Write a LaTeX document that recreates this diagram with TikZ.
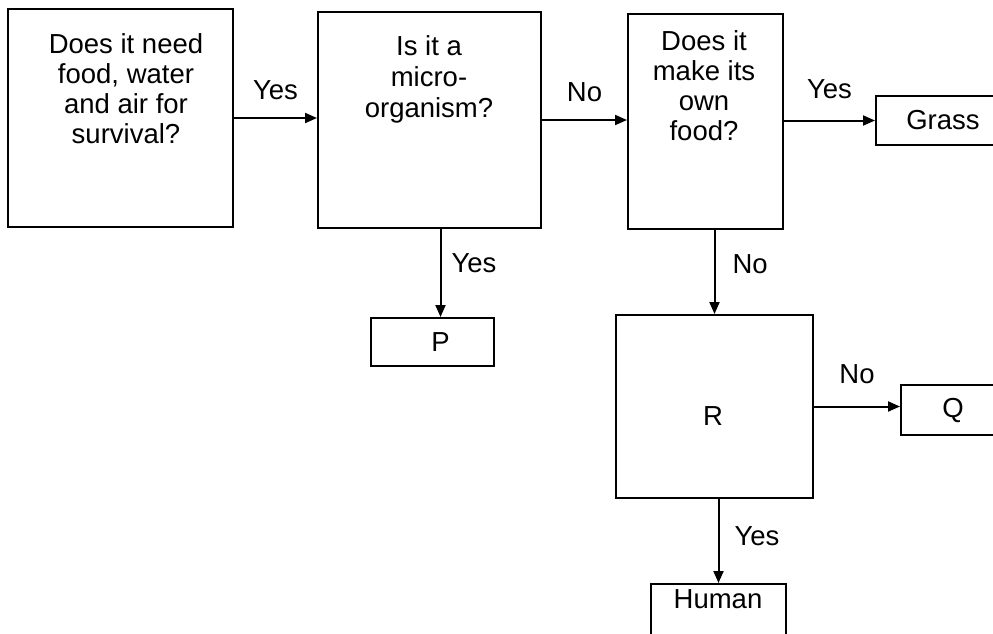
\documentclass[tikz,border=0pt]{standalone}
\usepackage{fontspec}
\setmainfont{Liberation Sans}
\usetikzlibrary{arrows.meta}
\begin{document}
\begin{tikzpicture}[x=1pt,y=-1pt,
  box/.style={draw, line width=2pt, inner sep=0pt, anchor=north west,
    font=\fontsize{27.5}{30}\selectfont},
  qtext/.style={anchor=north, align=center, inner sep=0pt,
    font=\fontsize{27.5}{30}\selectfont},
  lbl/.style={font=\fontsize{27.5}{30}\selectfont, inner sep=0pt},
  arr/.style={line width=2pt, -{Triangle[length=12pt,width=10pt]}}]
\useasboundingbox (0,0) rectangle (993,633);
\clip (0,0) rectangle (993,633);
% boxes
\node[box, minimum width=225pt, minimum height=218pt] (b1) at (7,8) {};
\node[box, minimum width=223pt, minimum height=216pt] (b2) at (317,11) {};
\node[box, minimum width=155pt, minimum height=215pt] (b3) at (627,13) {};
\node[box, minimum width=130pt, minimum height=49pt] (grass) at (875,95) {\hspace*{4pt}Grass};
\node[box, minimum width=123pt, minimum height=48pt] (p) at (370,317) {\hspace*{16pt}P};
\node[box, minimum width=197pt, minimum height=183pt] (r) at (615,314) {};
\node[box, minimum width=104pt, minimum height=50pt] (q) at (900,384) {Q};
\node[box, minimum width=135pt, minimum height=62pt] (human) at (650,583) {};
% texts
\node[qtext] (t1) at (126,33) {Does it need\\food, water\\and air for\\survival?};
\node[qtext, font=\fontsize{27.5}{31}\selectfont] (t2) at (429,35) {Is it a\\micro-\\organism?};
\node[qtext] (t3) at (704,30) {Does it\\make its\\own\\food?};
\node[lbl, anchor=base] (rt) at (713,425) {R};
\node[lbl, anchor=base] (ht) at (718,608) {Human};
% connectors
\draw[arr] (b1.east) -- node[lbl, midway, above=17pt] {Yes} (b1.east -| b2.west);
\draw[arr] (b2.east) -- node[lbl, midway, above=17pt] {No} (b2.east -| b3.west);
\draw[arr] (grass.west -| b3.east) -- node[lbl, midway, above=21pt] {Yes} (grass.west);
\draw[arr] ([xshift=8pt]p.north |- b2.south) -- node[lbl, midway, right=10pt, yshift=10pt] {Yes} ([xshift=8pt]p.north);
\draw[arr] (r.north |- b3.south) -- node[lbl, midway, right=17pt, yshift=8pt] {No} (r.north);
\draw[arr] (r.east) -- node[lbl, midway, above=22pt] {No} (r.east -| q.west);
\draw[arr] (human.north |- r.south) -- node[lbl, midway, right=15pt, yshift=5pt] {Yes} (human.north);
\end{tikzpicture}
\end{document}
